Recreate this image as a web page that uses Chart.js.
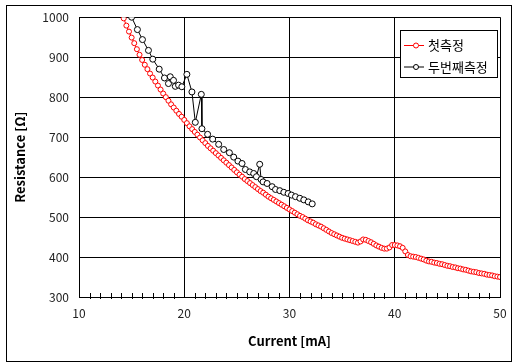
<!DOCTYPE html>
<html>
<head>
<meta charset="utf-8">
<script src="https://cdn.jsdelivr.net/npm/chart.js@4.4.1/dist/chart.umd.min.js"></script>
<style>
  body { margin: 0; background: #fff; }
  canvas { display: block; }
</style>
</head>
<body>
<canvas id="chart" width="519" height="364"></canvas>
<script>
// series names (legend)
const seriesNames = ['첫측정', '두번째측정']

// first measurement, current [mA] and resistance [ohm]
const redCurrent = [14.25, 14.5, 14.75, 15.0, 15.25, 15.5, 15.75, 16.0, 16.25, 16.5, 16.75, 17.0, 17.25, 17.5, 17.75, 18.0,
  18.25, 18.5, 18.75, 19.0, 19.25, 19.5, 19.75, 20.0, 20.25, 20.5, 20.75, 21.0, 21.25, 21.5, 21.75, 22.0,
  22.25, 22.5, 22.75, 23.0, 23.25, 23.5, 23.75, 24.0, 24.25, 24.5, 24.75, 25.0, 25.25, 25.5, 25.75, 26.0,
  26.25, 26.5, 26.75, 27.0, 27.25, 27.5, 27.75, 28.0, 28.25, 28.5, 28.75, 29.0, 29.25, 29.5, 29.75, 30.0,
  30.25, 30.5, 30.75, 31.0, 31.25, 31.5, 31.75, 32.0, 32.25, 32.5, 32.75, 33.0, 33.25, 33.5, 33.75, 34.0,
  34.25, 34.5, 34.75, 35.0, 35.25, 35.5, 35.75, 36.0, 36.25, 36.5, 36.75, 37.0, 37.25, 37.5, 37.75, 38.0,
  38.25, 38.5, 38.75, 39.0, 39.25, 39.5, 39.75, 40.0, 40.25, 40.5, 40.75, 41.0, 41.25, 41.5, 41.75, 42.0,
  42.25, 42.5, 42.75, 43.0, 43.25, 43.5, 43.75, 44.0, 44.25, 44.5, 44.75, 45.0, 45.25, 45.5, 45.75, 46.0,
  46.25, 46.5, 46.75, 47.0, 47.25, 47.5, 47.75, 48.0, 48.25, 48.5, 48.75, 49.0, 49.25, 49.5, 49.75, 50.0]
const redResistance = [997, 979, 964, 949, 935, 920, 906, 893, 881, 870, 859, 849, 839, 829, 819, 809,
  800, 791, 782, 774, 766, 758, 751, 743, 735, 727, 720, 713, 706, 699, 692, 685,
  678, 672, 666, 660, 654, 648, 642, 636, 630, 624, 618, 612, 606, 601, 595, 590,
  585, 580, 575, 570, 565, 561, 556, 551, 547, 543, 539, 535, 531, 527, 523, 519,
  515, 511, 507, 503, 500, 496, 492, 489, 486, 482, 479, 476, 472, 468, 464, 460,
  457, 454, 451, 448, 446, 444, 442, 440, 438, 436, 439, 444, 443, 440, 437, 433,
  429, 426, 423, 421, 421, 424, 430, 430, 429, 427, 423, 414, 405, 402, 401, 400,
  398, 396, 394, 391, 389, 388, 386, 385, 383, 382, 380, 378, 377, 375, 374, 372,
  371, 369, 368, 366, 364, 363, 362, 360, 359, 358, 356, 355, 354, 352, 351, 350]

// second measurement
const blackCurrent = [15.0, 15.55, 16.03, 16.6, 17.01, 17.62, 18.12, 18.67, 18.5, 18.98, 19.15, 19.46, 19.77,
  20.25, 20.73, 21.05, 21.62, 21.68, 22.22, 22.7, 23.27, 23.75, 24.29, 24.7, 25.1, 25.49, 25.81,
  26.22, 26.6, 26.86, 27.17, 27.3, 27.49, 27.87, 28.35, 28.67, 29.08, 29.46, 29.87, 30.19, 30.57,
  30.98, 31.36, 31.78, 32.16]
const blackResistance = [1000, 969, 944, 917, 895, 870, 848, 851, 834, 842, 827, 830, 826,
  857, 813, 737, 807, 721, 707, 695, 682, 669, 661, 650, 640, 634, 619,
  613, 609, 601, 632, 594, 588, 584, 576, 569, 566, 562, 559, 555, 551,
  547, 543, 538, 533]

const fontFamily = "'Noto Sans CJK KR', 'Noto Sans', sans-serif"

function toPoints(xs, ys) {
    return xs.map((x, i) => ({ x: x, y: ys[i] }))
}

// white background + outer frame
const framePlugin = {
    id: 'frame',
    beforeDraw(chart) {
        const c = chart.ctx
        c.save()
        c.fillStyle = '#fff'
        c.fillRect(0, 0, chart.width, chart.height)
        c.restore()
    },
    afterDraw(chart) {
        const c = chart.ctx
        c.save()
        c.strokeStyle = '#000'
        c.lineWidth = 1
        c.strokeRect(6.5, 5.5, 505, 356)
        c.restore()
    }
}

// small minor ticks crossing the x axis
const minorTicks = {
    id: 'minorTicks',
    afterDraw(chart) {
        const xs = chart.scales.x
        const c = chart.ctx
        const yb = chart.chartArea.bottom
        c.save()
        c.strokeStyle = '#000'
        c.lineWidth = 1
        xs.ticks.forEach(t => {
            if (t.value % 10 === 0) return
            const px = Math.round(xs.getPixelForValue(t.value)) + 0.5
            c.beginPath()
            c.moveTo(px, yb - 4)
            c.lineTo(px, yb + 2)
            c.stroke()
        })
        c.restore()
    }
}

// boxed legend inside the plot
const boxLegend = {
    id: 'boxLegend',
    afterDraw(chart) {
        const c = chart.ctx
        const left = 400, top = 30, w = 97, h = 47
        c.save()
        c.fillStyle = '#fff'
        c.fillRect(left, top, w, h)
        c.strokeStyle = '#000'
        c.lineWidth = 1
        c.strokeRect(left + 0.5, top + 0.5, w, h)
        chart.data.datasets.forEach((ds, i) => {
            const y = 45.5 + i * 21.5
            c.strokeStyle = ds.borderColor
            c.beginPath()
            c.moveTo(404, y)
            c.lineTo(424, y)
            c.stroke()
            c.beginPath()
            c.arc(416, y, 2.5, 0, Math.PI * 2)
            c.fillStyle = '#fff'
            c.fill()
            c.stroke()
            c.fillStyle = '#000'
            c.font = '13px ' + fontFamily
            c.textBaseline = 'middle'
            c.fillText(ds.label, 428, y)
        })
        c.restore()
    }
}

new Chart(document.getElementById('chart').getContext('2d'), {
    type: 'scatter',
    data: {
        datasets: [{
            label: seriesNames[0],
            data: toPoints(redCurrent, redResistance),
            showLine: true,
            borderColor: '#ff0000',
            borderWidth: 1,
            backgroundColor: '#fff',
            pointRadius: 2.5,
            pointBorderWidth: 1
        }, {
            label: seriesNames[1],
            data: toPoints(blackCurrent, blackResistance),
            showLine: true,
            borderColor: '#000',
            borderWidth: 1,
            backgroundColor: '#fff',
            pointRadius: 3,
            pointBorderWidth: 1
        }]
    },
    options: {
        responsive: false,
        animation: false,
        devicePixelRatio: 1,
        layout: { padding: { left: 6, right: 19, top: 17, bottom: 6 } },
        plugins: { legend: { display: false }, tooltip: { enabled: false } },
        scales: {
            x: {
                type: 'linear',
                min: 10,
                max: 50,
                afterFit: s => { s.height = 61 },
                ticks: {
                    stepSize: 1,
                    autoSkip: false,
                    maxTicksLimit: 100,
                    maxRotation: 0,
                    padding: 9,
                    color: '#222',
                    font: { family: fontFamily, size: 12 },
                    callback: v => (v % 10 === 0 ? String(v) : '')
                },
                grid: {
                    color: ctx => (ctx.tick && ctx.tick.value % 10 === 0 ? '#000' : 'rgba(0,0,0,0)'),
                    lineWidth: 1,
                    drawTicks: false
                },
                border: { color: '#000' },
                title: {
                    display: true,
                    text: 'Current [mA]',
                    color: '#000',
                    font: { family: fontFamily, size: 13, weight: 'bold' },
                    padding: { top: 0, bottom: 9 }
                }
            },
            y: {
                min: 300,
                max: 1000,
                afterFit: s => { s.width = 73 },
                ticks: {
                    stepSize: 100,
                    padding: 10,
                    color: '#222',
                    font: { family: fontFamily, size: 12 },
                    callback: v => String(v)
                },
                grid: { color: '#000', lineWidth: 1, drawTicks: false },
                border: { color: '#000' },
                title: {
                    display: true,
                    text: 'Resistance [Ω]',
                    color: '#000',
                    font: { family: fontFamily, size: 13, weight: 'bold' },
                    padding: { top: 6, bottom: 0 }
                }
            }
        }
    },
    plugins: [framePlugin, minorTicks, boxLegend]
})
</script>
</body>
</html>
